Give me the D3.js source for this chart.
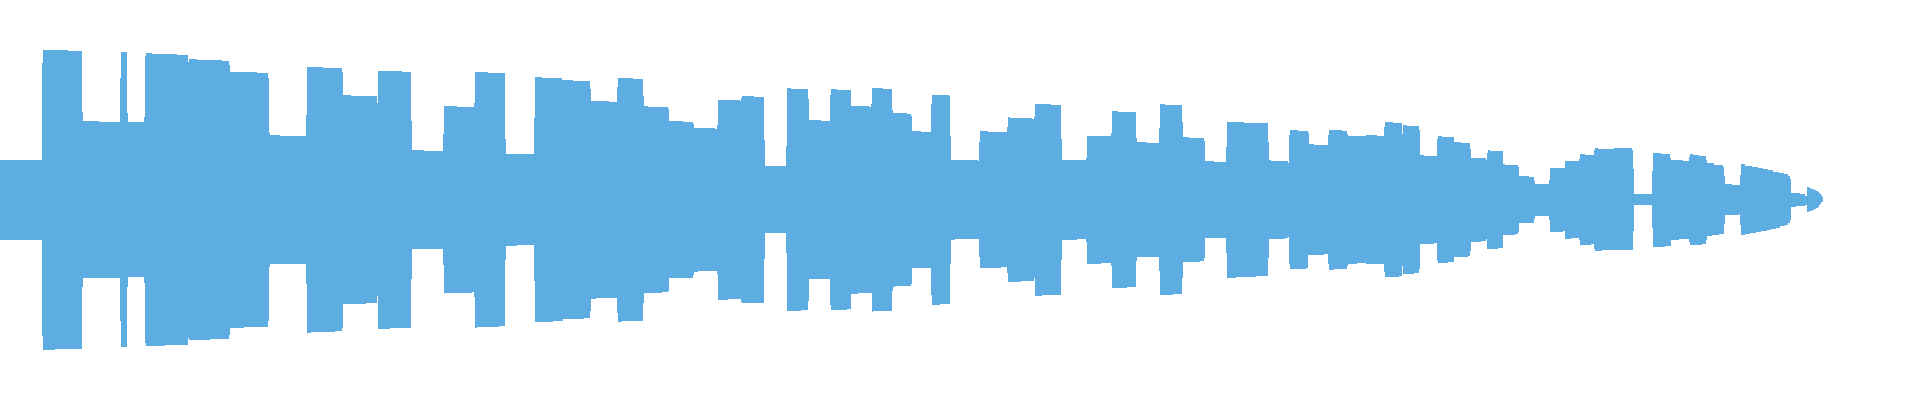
<!DOCTYPE html>
<html>
<head>
<meta charset="utf-8">
<script src="https://cdn.jsdelivr.net/npm/d3@7"></script>
<style>
  html, body { margin: 0; padding: 0; background: #ffffff; }
  svg { display: block; }
</style>
</head>
<body>
<svg id="chart" width="1920" height="400"></svg>
<script>
// Waveform peak envelope: bin index where each level starts, upper and lower peak (% of full scale)
const totalBins = 1920;
const bins = [0,42,43,55,68,82,83,99,120,121,127,128,144,145,146,152,165,177,188,189,197,210,222,229,230,244,257,268,269,270,280,306,307,311,323,335,342,343,351,366,377,378,390,402,411,412,424,443,444,457,472,474,475,477,488,499,505,506,517,534,535,542,553,562,563,573,584,590,591,596,609,617,618,622,633,643,644,648,662,668,669,683,693,694,698,715,717,718,728,740,741,742,754,764,765,786,787,791,801,808,809,821,830,831,837,847,851,858,869,871,872,873,883,892,893,895,907,911,912,921,931,932,940,949,950,951,955,978,979,980,988,1001,1007,1008,1010,1021,1032,1034,1035,1042,1051,1061,1062,1077,1086,1087,1101,1111,1112,1118,1127,1136,1137,1147,1159,1160,1165,1173,1182,1183,1189,1200,1204,1205,1214,1226,1227,1236,1244,1256,1268,1269,1271,1285,1288,1289,1290,1298,1306,1308,1309,1314,1324,1328,1329,1334,1342,1347,1348,1357,1366,1377,1384,1385,1393,1399,1402,1403,1407,1414,1419,1420,1424,1434,1437,1438,1442,1448,1454,1461,1468,1470,1471,1481,1486,1487,1488,1490,1498,1503,1505,1515,1518,1519,1529,1534,1535,1549,1550,1563,1565,1571,1579,1580,1585,1591,1594,1595,1598,1602,1614,1632,1633,1634,1652,1653,1661,1665,1670,1671,1679,1683,1689,1690,1693,1699,1702,1706,1707,1712,1714,1719,1723,1724,1725,1732,1739,1740,1741,1745,1750,1752,1756,1758,1761,1763,1767,1768,1771,1773,1776,1779,1780,1784,1785,1788,1790,1791,1796,1800,1805,1807,1809,1811,1812,1814,1816,1818,1819,1820,1821,1822,1823];
const peakHigh = [20,68.5,75,75,74.5,44,39.5,39,61,74,43.5,39,41.5,72,73.5,73,73,72.5,69,70.5,70,70,69.5,67.5,64,64,63.5,61,33.5,32.5,32,42.5,66.5,66.5,66,66,64,52.5,52,52,48.5,64.5,64.5,64,39.5,25,24.5,33,47,46.5,46.5,48.5,64,64,63.5,63.5,30.5,23,23,41,61.5,61,61,60,60,59.5,59.5,55.5,49.5,49.5,49,56.5,61,61,60.5,52,47,46.5,46.5,45.5,39.5,39,38,36,36,35.5,37.5,50,50,49.5,51,52,51.5,30,17,27,56,55.5,55.5,50.5,40,39.5,52.5,55.5,55,55,47,47,46.5,48,56,56,55.5,45,43.5,43.5,43,42,34.5,34,48,52.5,52.5,52,32,20,20,19.5,29,34.5,34,34,36.5,41.5,41,41,40.5,41.5,48,48,47.5,30.5,20,20,21,32,32,33.5,44.5,44,44,31,29,28.5,36,48,47.5,47.5,39,31.5,31,31,29.5,19.5,19,26.5,39,39,38.5,38.5,29,20,19.5,19.5,18.5,32.5,35,34.5,34.5,33.5,28,27.5,27.5,32.5,35,35,34.5,33,32,32,32.5,32,36.5,39,38.5,38.5,33,37.5,37,37,35,22.5,22,22,30.5,32,31.5,31.5,29,28.5,28.5,25.5,21,21,20,23.5,25,24.5,24.5,18,17.5,17.5,16.5,12,11.5,9.5,8,10,16,16,19.5,19.5,20.5,23,22.5,22.5,25,26,25.5,25.5,26,25,15.5,3,14.5,23.5,23,23,21,20,20,19.5,21.5,23,22.5,22,22,20,18.5,18.5,17.5,17.5,16.5,12,8,7.5,7.5,12.5,18,17,17,16.5,16.5,16,16,15.5,15.5,15,15,14,14,13.5,13.5,13,13,12,10.5,3.5,3.5,3,2,6.5,6,5.5,5.5,5,4.5,4,3.5,3,2.5,1.5,0];
const peakLow = [-20,-68,-75,-74.5,-74.5,-43.5,-39,-39,-60.5,-73.5,-43.5,-38.5,-41.5,-71.5,-73,-73,-72.5,-72.5,-69,-70,-70,-69.5,-69.5,-67.5,-64,-63.5,-63.5,-60.5,-33.5,-32,-32,-42,-66.5,-66,-66,-65.5,-64,-52,-52,-51.5,-48,-64.5,-64,-64,-39.5,-24.5,-24.5,-32.5,-46.5,-46.5,-46,-48.5,-64,-63.5,-63.5,-63,-30,-23,-22.5,-40.5,-61,-61,-60.5,-60.5,-59.5,-59.5,-59,-55.5,-49.5,-49,-49,-56.5,-61,-60.5,-60.5,-51.5,-46.5,-46.5,-46,-45.5,-39,-39,-37.5,-36,-35.5,-35.5,-37,-50,-49.5,-49.5,-51,-51.5,-51.5,-29.5,-16.5,-26.5,-55.5,-55.5,-55,-50.5,-39.5,-39.5,-52.5,-55,-55,-54.5,-47,-46.5,-46.5,-46.5,-56,-55.5,-55.5,-45.5,-43.5,-43,-43,-42,-34,-34,-47.5,-52.5,-52,-52,-32,-20,-19.5,-19.5,-28.5,-34,-34,-33.5,-36.5,-41,-41,-40.5,-40.5,-39,-48,-47.5,-47.5,-30,-20,-19.5,-21,-32,-31.5,-33,-44,-44,-43.5,-30.5,-28.5,-28.5,-35.5,-47.5,-47.5,-47,-39,-31,-31,-30.5,-29,-19,-19,-26.5,-39,-38.5,-38.5,-38,-29,-19.5,-19.5,-19,-18.5,-32,-34.5,-34.5,-34,-27.5,-27.5,-27.5,-27,-32,-35,-34.5,-34.5,-33,-32,-31.5,-32,-32,-36,-38.5,-38.5,-38,-33,-37,-37,-36.5,-34.5,-22,-22,-21.5,-30.5,-31.5,-31.5,-31,-28.5,-28.5,-28,-25.5,-21,-20.5,-19.5,-24.5,-24.5,-24.5,-24,-17.5,-17.5,-17,-16,-11.5,-11.5,-9.5,-8,-10,-16,-15.5,-19.5,-19,-20,-22.5,-22.5,-22,-24.5,-25.5,-25.5,-25,-25,-25,-15.5,-2.5,-14,-23.5,-23.5,-23,-23,-20,-19.5,-19.5,-21,-22.5,-22.5,-22.5,-22,-20,-18,-17.5,-17.5,-17,-17,-12,-7.5,-7.5,-7,-12.5,-17.5,-17,-16.5,-16.5,-16,-16,-15.5,-15.5,-15,-15,-14.5,-14.5,-14,-14,-13,-13,-12.5,-11.5,-10,-3.5,-3,-3,-2.5,-6,-5.5,-5.5,-5,-4.5,-4,-3.5,-2.5,-2,-1,-1,0];

const width = 1920, height = 400;
const svg = d3.select('#chart');

const x = d3.scaleLinear().domain([0, totalBins]).range([0, width]);
const y = d3.scaleLinear().domain([-100, 100]).range([height, 0]);

const data = bins.map((b, i) => ({ bin: b, high: peakHigh[i], low: peakLow[i] }));

const area = d3.area()
  .x(d => x(d.bin))
  .y0(d => y(d.low))
  .y1(d => y(d.high))
  .curve(d3.curveStepAfter);

svg.append('path')
  .datum(data)
  .attr('d', area)
  .attr('fill', '#5dade2')
  .attr('shape-rendering', 'crispEdges');
</script>
</body>
</html>
